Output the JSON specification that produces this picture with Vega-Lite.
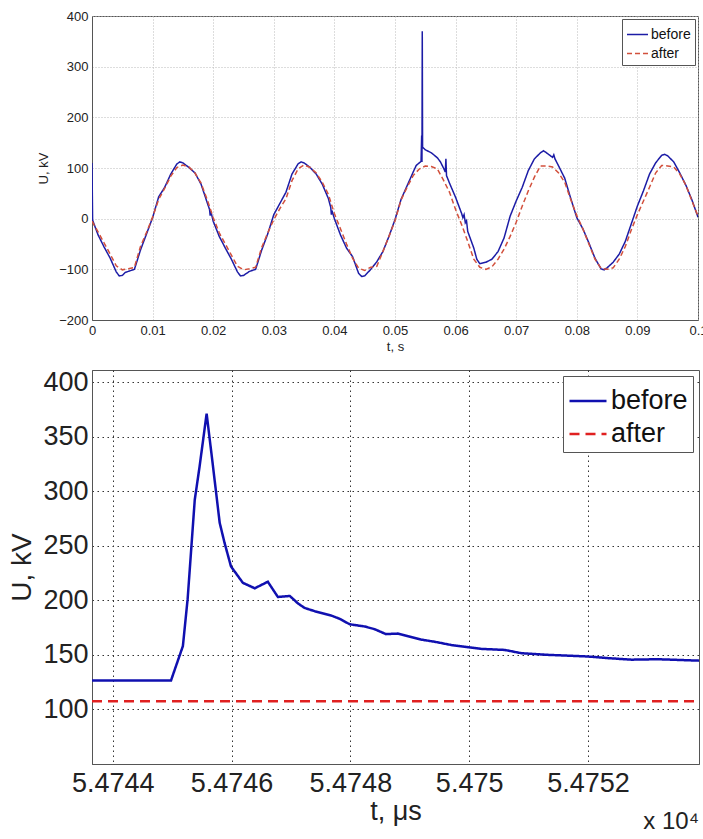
{
  "$schema": "https://vega.github.io/schema/vega-lite/v6.json",
  "padding": {"left": 8, "top": 9, "right": 0, "bottom": 0},
  "spacing": 13,
  "resolve": {"scale": {"color": "independent", "strokeDash": "independent"}, "legend": {"color": "independent", "strokeDash": "independent"}},
  "config": {
    "font": "Liberation Sans",
    "view": {"stroke": "#555", "strokeWidth": 1},
    "axis": {"ticks": false, "domainColor": "#555", "labelColor": "#222", "titleColor": "#222", "titleFontWeight": "normal", "labelFlush": false, "labelOverlap": false, "labelFont": "Liberation Sans", "titleFont": "Liberation Sans"},
    "legend": {"labelFont": "Liberation Sans"}
  },
  "datasets": {
    "top": [
      {"t": 0.0, "U": 110, "s": "before"}, {"t": 0.0001, "U": -3, "s": "before"}, {"t": 0.001, "U": -32, "s": "before"}, {"t": 0.002, "U": -56, "s": "before"}, {"t": 0.003, "U": -78, "s": "before"}, {"t": 0.004, "U": -105, "s": "before"}, {"t": 0.0045, "U": -113, "s": "before"}, {"t": 0.005, "U": -112, "s": "before"}, {"t": 0.0055, "U": -106, "s": "before"}, {"t": 0.006, "U": -104, "s": "before"}, {"t": 0.0065, "U": -102, "s": "before"}, {"t": 0.007, "U": -100, "s": "before"}, {"t": 0.008, "U": -62, "s": "before"}, {"t": 0.009, "U": -30, "s": "before"}, {"t": 0.01, "U": 2, "s": "before"}, {"t": 0.011, "U": 43, "s": "before"}, {"t": 0.012, "U": 62, "s": "before"}, {"t": 0.013, "U": 88, "s": "before"}, {"t": 0.014, "U": 108, "s": "before"}, {"t": 0.0145, "U": 112, "s": "before"}, {"t": 0.015, "U": 110, "s": "before"}, {"t": 0.016, "U": 101, "s": "before"}, {"t": 0.017, "U": 90, "s": "before"}, {"t": 0.018, "U": 68, "s": "before"}, {"t": 0.019, "U": 32, "s": "before"}, {"t": 0.0194, "U": 18, "s": "before"}, {"t": 0.0195, "U": 6, "s": "before"}, {"t": 0.0196, "U": 15, "s": "before"}, {"t": 0.02, "U": -5, "s": "before"},
      {"t": 0.021, "U": -35, "s": "before"}, {"t": 0.022, "U": -58, "s": "before"}, {"t": 0.023, "U": -80, "s": "before"}, {"t": 0.024, "U": -105, "s": "before"}, {"t": 0.0245, "U": -113, "s": "before"}, {"t": 0.025, "U": -112, "s": "before"}, {"t": 0.026, "U": -104, "s": "before"}, {"t": 0.027, "U": -100, "s": "before"}, {"t": 0.028, "U": -62, "s": "before"}, {"t": 0.029, "U": -30, "s": "before"}, {"t": 0.03, "U": 8, "s": "before"}, {"t": 0.031, "U": 30, "s": "before"}, {"t": 0.032, "U": 52, "s": "before"}, {"t": 0.033, "U": 88, "s": "before"}, {"t": 0.034, "U": 108, "s": "before"}, {"t": 0.0345, "U": 112, "s": "before"}, {"t": 0.035, "U": 110, "s": "before"}, {"t": 0.036, "U": 101, "s": "before"}, {"t": 0.037, "U": 88, "s": "before"}, {"t": 0.038, "U": 68, "s": "before"}, {"t": 0.039, "U": 40, "s": "before"}, {"t": 0.0394, "U": 22, "s": "before"}, {"t": 0.0395, "U": 8, "s": "before"}, {"t": 0.0396, "U": 16, "s": "before"}, {"t": 0.04, "U": 0, "s": "before"},
      {"t": 0.041, "U": -32, "s": "before"}, {"t": 0.042, "U": -58, "s": "before"}, {"t": 0.043, "U": -75, "s": "before"}, {"t": 0.044, "U": -108, "s": "before"}, {"t": 0.0445, "U": -114, "s": "before"}, {"t": 0.045, "U": -113, "s": "before"}, {"t": 0.046, "U": -100, "s": "before"}, {"t": 0.047, "U": -85, "s": "before"}, {"t": 0.048, "U": -65, "s": "before"}, {"t": 0.049, "U": -35, "s": "before"}, {"t": 0.05, "U": -2, "s": "before"}, {"t": 0.051, "U": 38, "s": "before"}, {"t": 0.052, "U": 65, "s": "before"}, {"t": 0.053, "U": 92, "s": "before"}, {"t": 0.0535, "U": 105, "s": "before"}, {"t": 0.054, "U": 110, "s": "before"}, {"t": 0.0543, "U": 113, "s": "before"}, {"t": 0.0544, "U": 164, "s": "before"}, {"t": 0.05445, "U": 112, "s": "before"}, {"t": 0.0545, "U": 370, "s": "before"}, {"t": 0.05455, "U": 141, "s": "before"}, {"t": 0.055, "U": 136, "s": "before"}, {"t": 0.056, "U": 130, "s": "before"}, {"t": 0.057, "U": 120, "s": "before"}, {"t": 0.0575, "U": 112, "s": "before"}, {"t": 0.058, "U": 100, "s": "before"}, {"t": 0.0583, "U": 92, "s": "before"}, {"t": 0.0584, "U": 118, "s": "before"}, {"t": 0.0585, "U": 85, "s": "before"}, {"t": 0.059, "U": 70, "s": "before"}, {"t": 0.06, "U": 42, "s": "before"},
      {"t": 0.061, "U": 10, "s": "before"}, {"t": 0.0612, "U": 2, "s": "before"}, {"t": 0.0614, "U": 8, "s": "before"}, {"t": 0.0616, "U": -8, "s": "before"}, {"t": 0.0618, "U": -4, "s": "before"}, {"t": 0.062, "U": -25, "s": "before"}, {"t": 0.063, "U": -58, "s": "before"}, {"t": 0.0635, "U": -80, "s": "before"}, {"t": 0.064, "U": -89, "s": "before"}, {"t": 0.065, "U": -86, "s": "before"}, {"t": 0.066, "U": -80, "s": "before"}, {"t": 0.067, "U": -65, "s": "before"}, {"t": 0.068, "U": -38, "s": "before"}, {"t": 0.069, "U": 5, "s": "before"}, {"t": 0.07, "U": 35, "s": "before"}, {"t": 0.071, "U": 62, "s": "before"}, {"t": 0.072, "U": 95, "s": "before"}, {"t": 0.073, "U": 118, "s": "before"}, {"t": 0.074, "U": 130, "s": "before"}, {"t": 0.0745, "U": 134, "s": "before"}, {"t": 0.075, "U": 130, "s": "before"}, {"t": 0.076, "U": 121, "s": "before"}, {"t": 0.0762, "U": 126, "s": "before"}, {"t": 0.0764, "U": 118, "s": "before"}, {"t": 0.077, "U": 104, "s": "before"}, {"t": 0.078, "U": 80, "s": "before"}, {"t": 0.079, "U": 40, "s": "before"}, {"t": 0.08, "U": 2, "s": "before"},
      {"t": 0.081, "U": -20, "s": "before"}, {"t": 0.082, "U": -48, "s": "before"}, {"t": 0.083, "U": -78, "s": "before"}, {"t": 0.084, "U": -99, "s": "before"}, {"t": 0.0845, "U": -101, "s": "before"}, {"t": 0.085, "U": -97, "s": "before"}, {"t": 0.086, "U": -86, "s": "before"}, {"t": 0.087, "U": -70, "s": "before"}, {"t": 0.088, "U": -45, "s": "before"}, {"t": 0.089, "U": -10, "s": "before"}, {"t": 0.09, "U": 25, "s": "before"}, {"t": 0.091, "U": 55, "s": "before"}, {"t": 0.092, "U": 88, "s": "before"}, {"t": 0.093, "U": 110, "s": "before"}, {"t": 0.094, "U": 125, "s": "before"}, {"t": 0.0945, "U": 127, "s": "before"}, {"t": 0.095, "U": 124, "s": "before"}, {"t": 0.096, "U": 112, "s": "before"}, {"t": 0.097, "U": 90, "s": "before"}, {"t": 0.098, "U": 66, "s": "before"}, {"t": 0.099, "U": 37, "s": "before"}, {"t": 0.1, "U": 3, "s": "before"},
      {"t": 0.0, "U": -5, "s": "after"}, {"t": 0.001, "U": -26, "s": "after"}, {"t": 0.002, "U": -48, "s": "after"}, {"t": 0.003, "U": -70, "s": "after"}, {"t": 0.004, "U": -93, "s": "after"}, {"t": 0.005, "U": -101, "s": "after"}, {"t": 0.006, "U": -99, "s": "after"}, {"t": 0.007, "U": -96, "s": "after"}, {"t": 0.008, "U": -55, "s": "after"}, {"t": 0.009, "U": -27, "s": "after"}, {"t": 0.01, "U": 3, "s": "after"}, {"t": 0.011, "U": 38, "s": "after"}, {"t": 0.012, "U": 60, "s": "after"}, {"t": 0.013, "U": 84, "s": "after"}, {"t": 0.014, "U": 101, "s": "after"}, {"t": 0.015, "U": 106, "s": "after"}, {"t": 0.016, "U": 102, "s": "after"}, {"t": 0.017, "U": 90, "s": "after"}, {"t": 0.018, "U": 70, "s": "after"}, {"t": 0.019, "U": 38, "s": "after"}, {"t": 0.02, "U": 2, "s": "after"},
      {"t": 0.021, "U": -28, "s": "after"}, {"t": 0.022, "U": -50, "s": "after"}, {"t": 0.023, "U": -72, "s": "after"}, {"t": 0.024, "U": -94, "s": "after"}, {"t": 0.025, "U": -101, "s": "after"}, {"t": 0.026, "U": -99, "s": "after"}, {"t": 0.027, "U": -96, "s": "after"}, {"t": 0.028, "U": -57, "s": "after"}, {"t": 0.029, "U": -28, "s": "after"}, {"t": 0.03, "U": -2, "s": "after"}, {"t": 0.031, "U": 20, "s": "after"}, {"t": 0.032, "U": 39, "s": "after"}, {"t": 0.033, "U": 75, "s": "after"}, {"t": 0.034, "U": 98, "s": "after"}, {"t": 0.035, "U": 106, "s": "after"}, {"t": 0.036, "U": 101, "s": "after"}, {"t": 0.037, "U": 90, "s": "after"}, {"t": 0.038, "U": 72, "s": "after"}, {"t": 0.039, "U": 48, "s": "after"}, {"t": 0.04, "U": 10, "s": "after"},
      {"t": 0.041, "U": -20, "s": "after"}, {"t": 0.042, "U": -50, "s": "after"}, {"t": 0.043, "U": -78, "s": "after"}, {"t": 0.044, "U": -98, "s": "after"}, {"t": 0.045, "U": -102, "s": "after"}, {"t": 0.046, "U": -96, "s": "after"}, {"t": 0.047, "U": -94, "s": "after"}, {"t": 0.048, "U": -65, "s": "after"}, {"t": 0.049, "U": -35, "s": "after"}, {"t": 0.05, "U": -4, "s": "after"}, {"t": 0.051, "U": 37, "s": "after"}, {"t": 0.052, "U": 62, "s": "after"}, {"t": 0.053, "U": 85, "s": "after"}, {"t": 0.054, "U": 98, "s": "after"}, {"t": 0.055, "U": 104, "s": "after"}, {"t": 0.056, "U": 103, "s": "after"}, {"t": 0.057, "U": 98, "s": "after"}, {"t": 0.058, "U": 76, "s": "after"}, {"t": 0.059, "U": 52, "s": "after"}, {"t": 0.06, "U": 18, "s": "after"},
      {"t": 0.061, "U": -12, "s": "after"}, {"t": 0.062, "U": -45, "s": "after"}, {"t": 0.063, "U": -80, "s": "after"}, {"t": 0.064, "U": -96, "s": "after"}, {"t": 0.065, "U": -100, "s": "after"}, {"t": 0.066, "U": -95, "s": "after"}, {"t": 0.067, "U": -80, "s": "after"}, {"t": 0.068, "U": -60, "s": "after"}, {"t": 0.069, "U": -35, "s": "after"}, {"t": 0.07, "U": -7, "s": "after"}, {"t": 0.071, "U": 25, "s": "after"}, {"t": 0.072, "U": 55, "s": "after"}, {"t": 0.073, "U": 82, "s": "after"}, {"t": 0.074, "U": 104, "s": "after"}, {"t": 0.075, "U": 104, "s": "after"}, {"t": 0.076, "U": 102, "s": "after"}, {"t": 0.077, "U": 90, "s": "after"}, {"t": 0.078, "U": 72, "s": "after"}, {"t": 0.079, "U": 38, "s": "after"}, {"t": 0.08, "U": 6, "s": "after"},
      {"t": 0.081, "U": -20, "s": "after"}, {"t": 0.082, "U": -50, "s": "after"}, {"t": 0.083, "U": -80, "s": "after"}, {"t": 0.084, "U": -98, "s": "after"}, {"t": 0.085, "U": -100, "s": "after"}, {"t": 0.086, "U": -97, "s": "after"}, {"t": 0.087, "U": -80, "s": "after"}, {"t": 0.088, "U": -55, "s": "after"}, {"t": 0.089, "U": -22, "s": "after"}, {"t": 0.09, "U": 8, "s": "after"}, {"t": 0.091, "U": 35, "s": "after"}, {"t": 0.092, "U": 62, "s": "after"}, {"t": 0.093, "U": 90, "s": "after"}, {"t": 0.094, "U": 105, "s": "after"}, {"t": 0.095, "U": 104, "s": "after"}, {"t": 0.096, "U": 102, "s": "after"}, {"t": 0.097, "U": 88, "s": "after"}, {"t": 0.098, "U": 66, "s": "after"}, {"t": 0.099, "U": 35, "s": "after"}, {"t": 0.1, "U": 5, "s": "after"}
    ],
    "bottom": [
      {"t": 5.474365, "U": 126.5, "s": "before"}, {"t": 5.474498, "U": 126.5, "s": "before"}, {"t": 5.474518, "U": 158, "s": "before"}, {"t": 5.474526, "U": 201, "s": "before"}, {"t": 5.474538, "U": 292, "s": "before"}, {"t": 5.474546, "U": 322, "s": "before"}, {"t": 5.474558, "U": 371, "s": "before"}, {"t": 5.474568, "U": 326, "s": "before"}, {"t": 5.47458, "U": 271, "s": "before"}, {"t": 5.474588, "U": 253, "s": "before"}, {"t": 5.474599, "U": 231, "s": "before"}, {"t": 5.474619, "U": 216, "s": "before"}, {"t": 5.474639, "U": 211, "s": "before"}, {"t": 5.474661, "U": 217, "s": "before"}, {"t": 5.474678, "U": 203, "s": "before"}, {"t": 5.474698, "U": 204, "s": "before"}, {"t": 5.474712, "U": 197, "s": "before"}, {"t": 5.474723, "U": 193, "s": "before"}, {"t": 5.47474, "U": 190, "s": "before"}, {"t": 5.474768, "U": 186, "s": "before"}, {"t": 5.474782, "U": 183, "s": "before"}, {"t": 5.474799, "U": 178, "s": "before"}, {"t": 5.474824, "U": 176, "s": "before"}, {"t": 5.474841, "U": 173.5, "s": "before"}, {"t": 5.47486, "U": 169, "s": "before"}, {"t": 5.47488, "U": 169.5, "s": "before"}, {"t": 5.474919, "U": 164, "s": "before"}, {"t": 5.474942, "U": 162, "s": "before"}, {"t": 5.47497, "U": 159, "s": "before"}, {"t": 5.474998, "U": 157, "s": "before"}, {"t": 5.47502, "U": 155.5, "s": "before"}, {"t": 5.47506, "U": 154.5, "s": "before"}, {"t": 5.475088, "U": 151.5, "s": "before"}, {"t": 5.475133, "U": 150, "s": "before"}, {"t": 5.4752, "U": 148.5, "s": "before"}, {"t": 5.475234, "U": 147, "s": "before"}, {"t": 5.475273, "U": 145.6, "s": "before"}, {"t": 5.475318, "U": 146, "s": "before"}, {"t": 5.475387, "U": 144.7, "s": "before"},
      {"t": 5.474365, "U": 107.5, "s": "after"}, {"t": 5.475387, "U": 107.5, "s": "after"}
    ]
  },
  "vconcat": [
    {
      "width": 606,
      "height": 304,
      "data": {"name": "top"},
      "mark": {"type": "line", "strokeWidth": 1.5, "clip": true},
      "encoding": {
        "x": {"field": "t", "type": "quantitative", "scale": {"domain": [0, 0.1], "nice": false, "zero": false},
          "axis": {"title": "t, s", "values": [0, 0.01, 0.02, 0.03, 0.04, 0.05, 0.06, 0.07, 0.08, 0.09, 0.1], "format": "~g", "labelFontSize": 13, "titleFontSize": 13, "labelPadding": 4, "titlePadding": 3, "grid": true, "gridColor": "#bbb", "gridDash": [1, 2]}},
        "y": {"field": "U", "type": "quantitative", "scale": {"domain": [-200, 400], "nice": false, "zero": false},
          "axis": {"title": "U, kV", "values": [-200, -100, 0, 100, 200, 300, 400], "format": "d", "labelFontSize": 13, "titleFontSize": 13, "labelPadding": 4, "titlePadding": 8, "grid": true, "gridColor": "#bbb", "gridDash": [1, 2]}},
        "color": {"field": "s", "type": "nominal", "scale": {"domain": ["before", "after"], "range": ["#1c1ca6", "#d2503c"]},
          "legend": {"title": null, "orient": "top-right", "offset": 3, "strokeColor": "#555", "fillColor": "white", "padding": 4, "rowPadding": 0, "symbolType": "stroke", "symbolSize": 441, "symbolStrokeWidth": 1.5, "labelFontSize": 14, "labelColor": "#111", "labelOffset": 2}},
        "strokeDash": {"field": "s", "type": "nominal", "scale": {"domain": ["before", "after"], "range": [[1, 0], [5, 3]]}}
      }
    },
    {
      "width": 607,
      "height": 394,
      "data": {"name": "bottom"},
      "title": {"text": "x 10⁴", "orient": "bottom", "anchor": "end", "fontSize": 24, "fontWeight": "normal", "font": "Liberation Sans", "color": "#222", "offset": -14},
      "mark": {"type": "line", "strokeWidth": 2.5, "clip": true},
      "encoding": {
        "x": {"field": "t", "type": "quantitative", "scale": {"domain": [5.474365, 5.475387], "nice": false, "zero": false},
          "axis": {"title": "t, μs", "values": [5.4744, 5.4746, 5.4748, 5.475, 5.4752], "format": ".5~g", "labelFontSize": 27, "titleFontSize": 27, "labelPadding": 6, "titlePadding": 2, "grid": true, "gridColor": "#333", "gridDash": [1.5, 3.5]}},
        "y": {"field": "U", "type": "quantitative", "scale": {"domain": [50, 411], "nice": false, "zero": false},
          "axis": {"title": "U, kV", "values": [100, 150, 200, 250, 300, 350, 400], "format": "d", "labelFontSize": 27, "titleFontSize": 28, "labelPadding": 4, "titlePadding": 6, "grid": true, "gridColor": "#333", "gridDash": [1.5, 3.5]}},
        "color": {"field": "s", "type": "nominal", "scale": {"domain": ["before", "after"], "range": ["#1010b0", "#e02020"]},
          "legend": {"title": null, "orient": "top-right", "offset": 6, "strokeColor": "#555", "fillColor": "white", "padding": 5, "rowPadding": 0, "symbolType": "stroke", "symbolSize": 1369, "symbolStrokeWidth": 2.5, "labelFontSize": 27, "labelColor": "#111", "labelOffset": 3}},
        "strokeDash": {"field": "s", "type": "nominal", "scale": {"domain": ["before", "after"], "range": [[1, 0], [10, 6]]}}
      }
    }
  ]
}
